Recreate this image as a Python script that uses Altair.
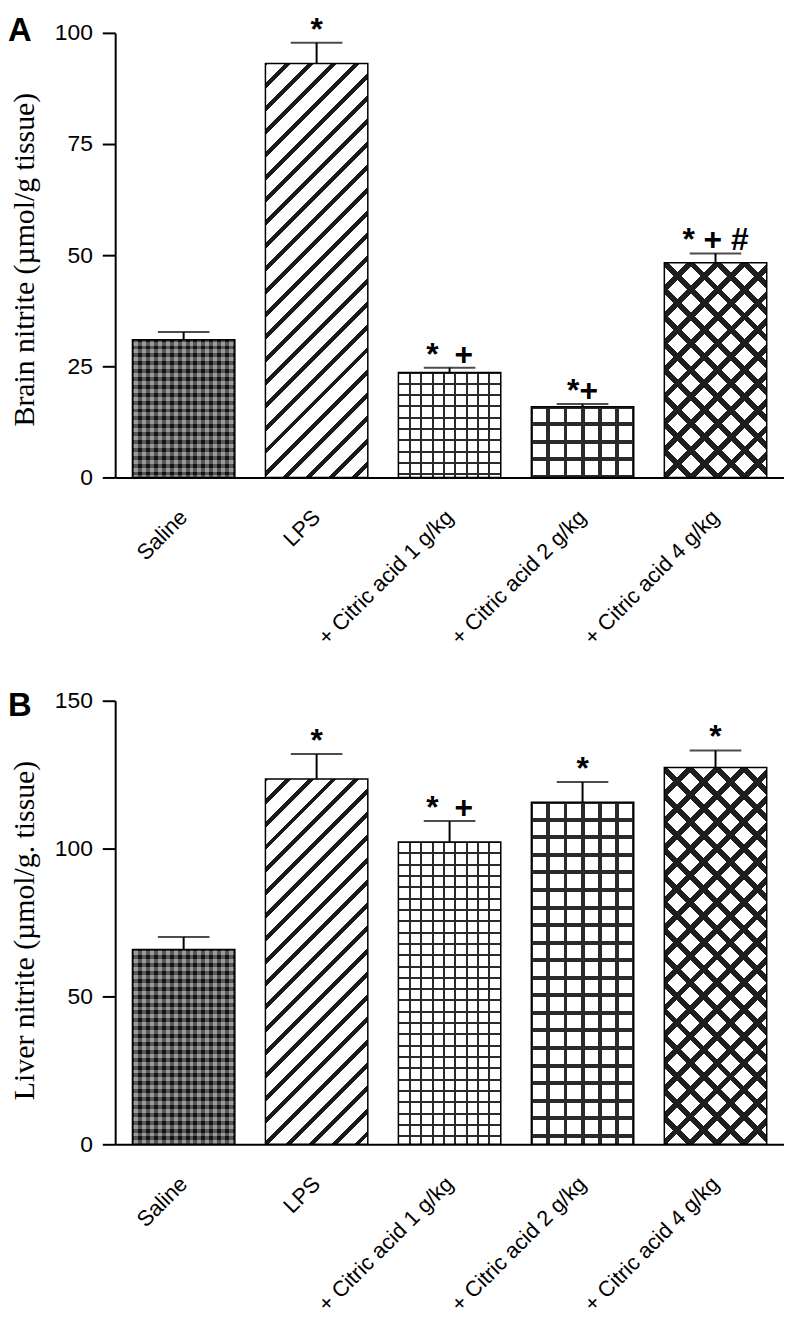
import math
import altair as alt
import pandas as pd

# ---------------- data ----------------
categories = ["Saline", "LPS", "+ Citric acid 1 g/kg", "+ Citric acid 2 g/kg", "+ Citric acid 4 g/kg"]

brain_mean = [31.0, 93.1, 23.6, 15.9, 48.3]
brain_sem = [1.7, 4.7, 1.1, 0.6, 2.1]
brain_marks = ["", "*", "*\u2002+", "*+", "* + #"]
brain_ticks = [0, 25, 50, 75, 100]

liver_mean = [65.9, 123.5, 102.2, 115.7, 127.4]
liver_sem = [4.2, 8.5, 7.1, 6.8, 5.8]
liver_marks = ["", "*", "*\u2002+", "*", "*"]
liver_ticks = [0, 50, 100, 150]

panel_letters = ["A", "B"]

# ---------------- layout / style ----------------
PLOT_W = 674
PAD_INNER = 0.23
PAD_OUTER = 0.13
STEP = PLOT_W / (len(categories) - PAD_INNER + 2 * PAD_OUTER)
BAND = STEP * (1 - PAD_INNER)
FONT = "Liberation Sans"
SERIF = "Liberation Serif"


def stripe_stops(centers, half, fg, bg):
    stops = [{"offset": 0, "color": bg}]
    for c in centers:
        a, b = c - half, c + half
        if b <= 0 or a >= 1:
            continue
        a = max(a, 0.0)
        b = min(b, 1.0)
        stops += [
            {"offset": round(a, 5), "color": bg},
            {"offset": round(a, 5), "color": fg},
            {"offset": round(b, 5), "color": fg},
            {"offset": round(b, 5), "color": bg},
        ]
    stops.append({"offset": 1, "color": bg})
    return stops


def vlines(W, period, th, fg, bg):
    n = int(math.ceil(W / period)) + 1
    centers = [k * period / W for k in range(n)]
    return {"gradient": "linear", "x1": 0, "y1": 0, "x2": 1, "y2": 0,
            "stops": stripe_stops(centers, th / 2 / W, fg, bg)}


def hlines(H, period, th, fg, bg):
    n = int(math.ceil(H / period)) + 1
    centers = [k * period / H for k in range(n)]
    return {"gradient": "linear", "x1": 0, "y1": 0, "x2": 0, "y2": 1,
            "stops": stripe_stops(centers, th / 2 / H, fg, bg)}


def diag(W, H, px_h, px_v, th_h, fg, bg, direction):
    A = W / px_h
    B = H / px_v
    c = A * (A + B) / (A * A + B * B)
    n = A + B
    centers = [k / n for k in range(int(math.ceil(n)) + 1)]
    half = (th_h / px_h) / 2 / n
    if direction == "/":
        x1, y1, x2, y2 = 0, 0, c, c * B / A
    else:
        x1, y1, x2, y2 = 0, 1, c, 1 - c * B / A
    return {"gradient": "linear", "x1": x1, "y1": y1,
            "x2": round(x2, 6), "y2": round(y2, 6),
            "stops": stripe_stops(centers, half, fg, bg)}


CLEAR = "rgba(255,255,255,0)"


def patterns(i, H):
    W = BAND
    if i == 0:
        p = W / 13
        return [(vlines(W, p, p / 2, "#141414", "#9a9a9a"), None),
                (hlines(H, p, p / 2, "#141414", "#9a9a9a"), 0.5)]
    if i == 1:
        return [(diag(W, H, 23, 23, 6, "#1a1a1a", "white", "/"), None)]
    if i == 2:
        return [(vlines(W, W / 9, 2, "#2a2a2a", "white"), None),
                (hlines(H, 11.4, 2, "#2a2a2a", CLEAR), None)]
    if i == 3:
        return [(vlines(W, W / 6, 4, "#2a2a2a", "white"), None),
                (hlines(H, 17.7, 4, "#2a2a2a", CLEAR), None)]
    return [(diag(W, H, 27, 27, 8, "#1e1e1e", "white", "/"), None),
            (diag(W, H, 27, 27, 8, "#1e1e1e", CLEAR, "\\"), None)]


def panel(means, sems, marks, ymax, ticks, plot_h, title, title_y, letter, letter_y):
    df = pd.DataFrame({
        "cat": categories,
        "mean": means,
        "top": [m + s for m, s in zip(means, sems)],
        "mark": marks,
    })
    xaxis = alt.Axis(labelAngle=-45, labelAlign="right", labelBaseline="middle",
                     labelFontSize=22, labelFont=FONT, labelPadding=36, ticks=False,
                     domainWidth=2, domainColor="black", labelLimit=400,
                     labelOverlap=False, labelColor="black")
    x_enc = alt.X("cat:N", sort=categories,
                  scale=alt.Scale(domain=categories, paddingInner=PAD_INNER,
                                  paddingOuter=PAD_OUTER),
                  axis=xaxis, title=None)
    yscale = alt.Scale(domain=[0, ymax], nice=False, zero=True)
    yaxis = alt.Axis(values=ticks, tickSize=13, tickWidth=2, tickColor="black",
                     domainWidth=2, domainColor="black",
                     labelFontSize=23, labelFont=FONT, labelPadding=10, labelColor="black",
                     titleFont=SERIF, titleFontSize=30, titleFontWeight="normal",
                     titleColor="black", titleAngle=270, titleX=-106, titleY=title_y,
                     titleAlign="center", titleBaseline="top", grid=False)

    def y_enc(field):
        return alt.Y(f"{field}:Q", scale=yscale, axis=yaxis, title=title)

    base = alt.Chart(df)
    layers = []
    for i, cat in enumerate(categories):
        H = means[i] / ymax * plot_h
        for grad, op in patterns(i, H):
            kw = {"fill": grad}
            if op is not None:
                kw["opacity"] = op
            layers.append(
                base.transform_filter(alt.datum.cat == cat)
                .mark_bar(**kw)
                .encode(x=x_enc, y=y_enc("mean"))
            )
    layers.append(base.mark_bar(fillOpacity=0, stroke="black", strokeWidth=1.5)
                  .encode(x=x_enc, y=y_enc("mean")))
    layers.append(base.mark_rule(color="black", strokeWidth=2)
                  .encode(x=x_enc, y=y_enc("mean"), y2="top:Q"))
    layers.append(base.mark_tick(color="black", thickness=2, size=52, orient="horizontal")
                  .encode(x=x_enc, y=y_enc("top")))
    layers.append(base.mark_text(font=FONT, fontWeight="bold", fontSize=32,
                                 baseline="alphabetic", dy=-3, color="black")
                  .encode(x=x_enc, y=y_enc("top"), text="mark:N"))
    layers.append(alt.Chart(pd.DataFrame({"label": [letter]}))
                  .mark_text(font=FONT, fontWeight="bold", fontSize=33, align="left",
                             baseline="top", color="black")
                  .encode(x=alt.value(-108), y=alt.value(letter_y), text="label:N"))
    return alt.layer(*layers).properties(width=PLOT_W, height=plot_h)


chart_a = panel(brain_mean, brain_sem, brain_marks, 100, brain_ticks, 448,
                "Brain nitrite (\u00b5mol/g tissue)", 228, panel_letters[0], -18)
chart_b = panel(liver_mean, liver_sem, liver_marks, 150, liver_ticks, 447,
                "Liver nitrite (\u00b5mol/g. tissue)", 231, panel_letters[1], -11)

chart = (
    alt.VConcatChart(vconcat=[chart_a, chart_b], spacing=225, bounds="flush")
    .properties(padding={"left": 0, "top": 0, "right": 0, "bottom": 0})
    .configure_view(strokeWidth=0)
)

chart.save("out.html", embed_options={"renderer": "svg", "actions": False})
